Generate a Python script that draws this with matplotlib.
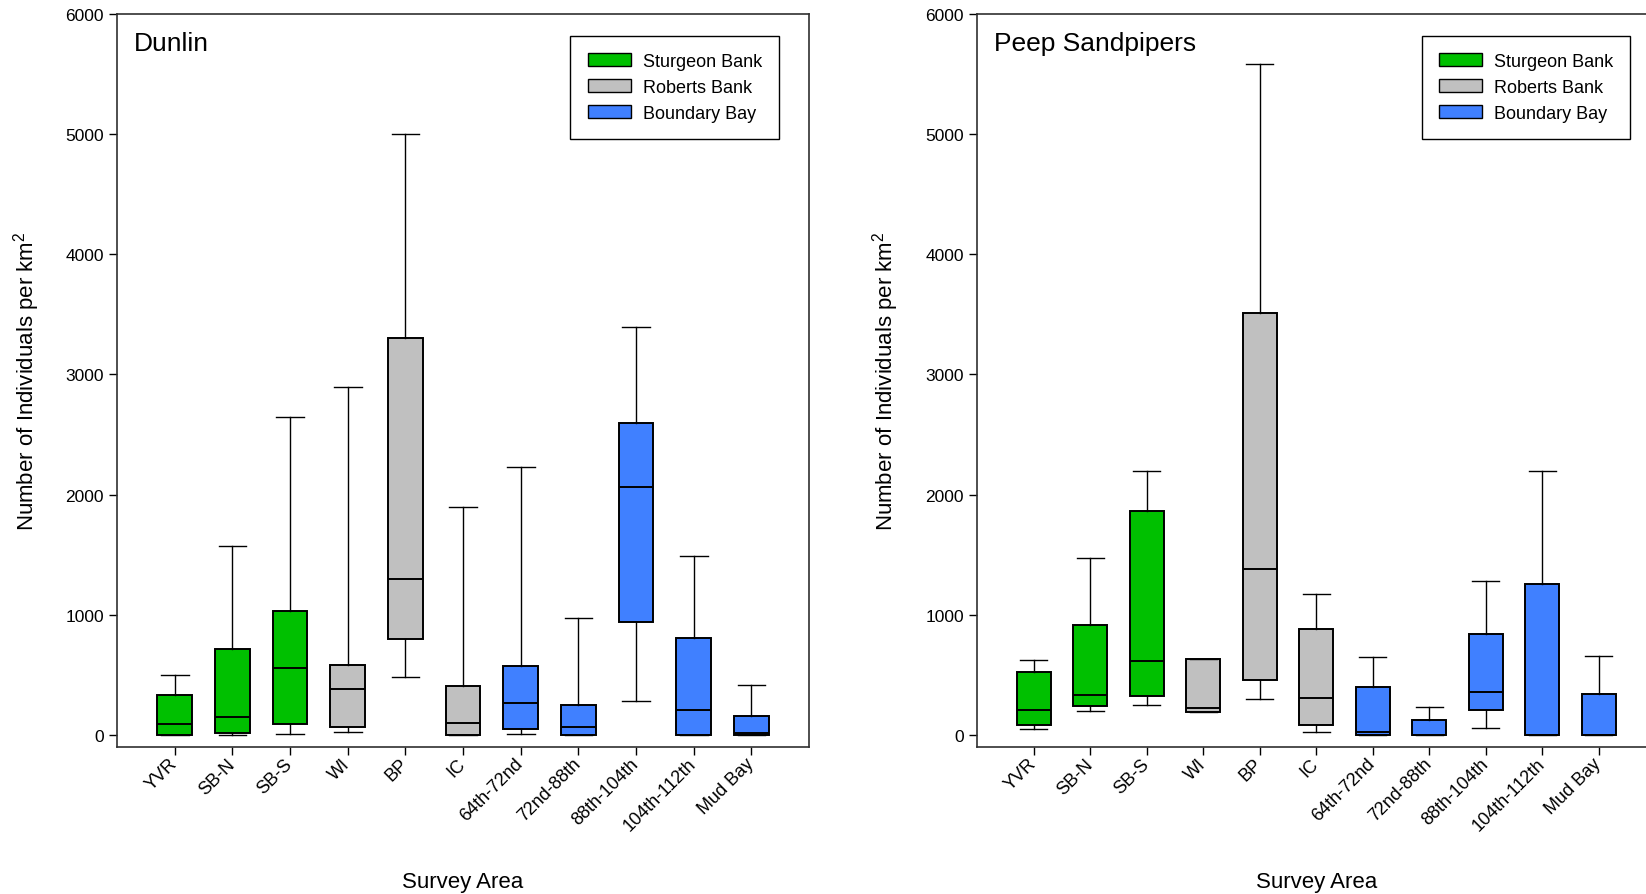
import matplotlib
matplotlib.use("Agg")
import matplotlib.pyplot as plt
from matplotlib.patches import Patch

plt.rcParams['font.family'] = ['Liberation Sans', 'DejaVu Sans']
plt.rcParams['mathtext.fontset'] = 'custom'

# ---------------- data ----------------
areas = ["YVR", "SB-N", "SB-S", "WI", "BP", "IC", "64th-72nd", "72nd-88th",
         "88th-104th", "104th-112th", "Mud Bay"]
area_region = ["Sturgeon Bank", "Sturgeon Bank", "Sturgeon Bank",
               "Roberts Bank", "Roberts Bank", "Roberts Bank",
               "Boundary Bay", "Boundary Bay", "Boundary Bay", "Boundary Bay", "Boundary Bay"]
regions = ["Sturgeon Bank", "Roberts Bank", "Boundary Bay"]
region_colors = {"Sturgeon Bank": "#00C000", "Roberts Bank": "#C0C0C0", "Boundary Bay": "#4080FF"}

# Dunlin (individuals per km^2)
dunlin_whislo = [0, 0, 6, 28, 483, 0, 11, 0, 281, 0, 0]
dunlin_q1     = [0, 19, 92, 69, 797, 0, 47, 0, 942, 0, 0]
dunlin_med    = [94, 147, 558, 386, 1301, 103, 269, 67, 2061, 208, 17]
dunlin_q3     = [333, 717, 1033, 583, 3301, 408, 575, 250, 2594, 803, 161]
dunlin_whishi = [497, 1572, 2646, 2895, 4996, 1895, 2227, 975, 3397, 1485, 414]

# Peep sandpipers (individuals per km^2)
peep_whislo = [47, 196, 253, 193, 300, 22, 0, 0, 61, 0, 0]
peep_q1     = [83, 242, 322, 193, 457, 85, 0, 0, 209, 0, 0]
peep_med    = [212, 331, 614, 226, 1380, 309, 22, 0, 361, 0, 0]
peep_q3     = [523, 912, 1862, 631, 3511, 879, 397, 124, 843, 1256, 344]
peep_whishi = [620, 1475, 2192, 631, 5581, 1174, 647, 237, 1284, 2192, 661]

yticks = [0, 1000, 2000, 3000, 4000, 5000, 6000]

# ---------------- figure ----------------
fig = plt.figure(figsize=(16.46, 8.95), dpi=100)
ax1 = fig.add_axes([0.0711, 0.1642, 0.4204, 0.8194])
ax2 = fig.add_axes([0.5936, 0.1642, 0.4120, 0.8194])


def draw(ax, title, lo, q1, med, q3, hi, leg_x, ylab_x):
    stats = []
    for i in range(len(areas)):
        stats.append(dict(whislo=lo[i], q1=q1[i], med=med[i], q3=q3[i], whishi=hi[i],
                          label=areas[i]))
    positions = list(range(1, len(areas) + 1))
    bp = ax.bxp(stats, positions=positions, widths=0.6, capwidths=0.48,
                showfliers=False, patch_artist=True,
                boxprops=dict(edgecolor='black', linewidth=1.4),
                medianprops=dict(color='black', linewidth=1.4),
                whiskerprops=dict(color='black', linewidth=1.0),
                capprops=dict(color='black', linewidth=1.0))
    for patch, reg in zip(bp['boxes'], area_region):
        patch.set_facecolor(region_colors[reg])
    ax.set_xlim(0, 12)
    ax.set_ylim(-100, 6000)
    ax.set_yticks(yticks)
    ax.set_xticks(positions)
    ax.set_xticklabels(areas, rotation=45, ha='right', va='center',
                       rotation_mode='anchor', fontsize=13)
    ax.tick_params(axis='y', labelsize=12.5, length=6, width=1, direction='out',
                   right=False)
    ax.tick_params(axis='x', length=6, width=1, direction='out', top=False, pad=4)
    for s in ['left', 'bottom', 'top', 'right']:
        ax.spines[s].set_linewidth(1.2)
        ax.spines[s].set_color('#303030')
    ax.text(0.025, 0.977, title, transform=ax.transAxes, fontsize=19,
            ha='left', va='top')
    ax.set_ylabel(r'Number of Individuals per km$^\mathregular{2}$', fontsize=16)
    ax.yaxis.set_label_coords(ylab_x, 0.5)
    ax.set_xlabel('Survey Area', fontsize=16)
    ax.xaxis.set_label_coords(0.5, -0.183)
    ax.xaxis.label.set_va('center')
    handles = [Patch(facecolor=region_colors[r], edgecolor='black', linewidth=1.0, label=r)
               for r in regions]
    leg = ax.legend(handles=handles, loc='upper right', bbox_to_anchor=(leg_x, 0.9696),
                    borderaxespad=0, fontsize=13, fancybox=False, framealpha=1,
                    edgecolor='black', handlelength=2.4, handleheight=0.72,
                    labelspacing=0.5, handletextpad=0.65, borderpad=0.95)
    leg.get_frame().set_linewidth(1.0)


draw(ax1, "Dunlin", dunlin_whislo, dunlin_q1, dunlin_med, dunlin_q3, dunlin_whishi,
     0.9566, -0.109)
draw(ax2, "Peep Sandpipers", peep_whislo, peep_q1, peep_med, peep_q3, peep_whishi,
     0.963, -0.1115)

fig.savefig("out.png", dpi=100)
